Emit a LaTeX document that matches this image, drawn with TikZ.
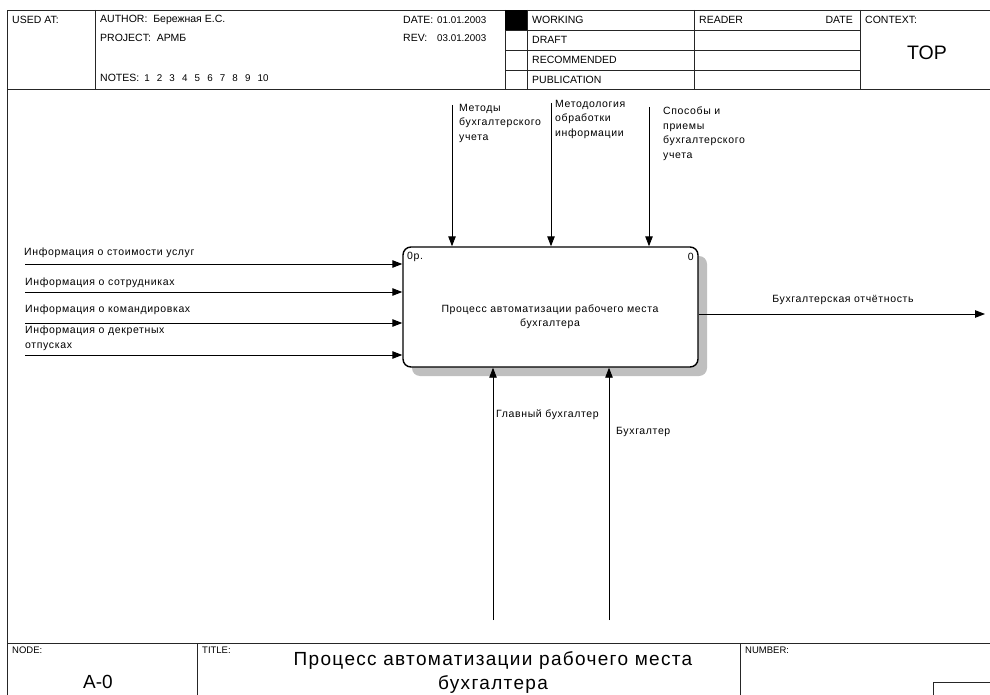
\documentclass[tikz,border=0pt]{standalone}
\usepackage{fontspec}
\setmainfont{Liberation Sans}
\newfontfamily\lblfont[LetterSpace=6]{Liberation Sans}
\newfontfamily\bigfont[LetterSpace=7]{Liberation Sans}
\usetikzlibrary{arrows.meta}
\begin{document}
\begin{tikzpicture}[x=1pt,y=-1pt,
  frame/.style={line width=0.8pt, black!85},
  flow/.style={line width=0.9pt, -{Triangle[length=10pt,width=7.5pt]}},
  lbl/.style={font=\lblfont\fontsize{10.5}{14.5}\selectfont, inner sep=0pt, align=left},
  hdr/.style={font=\fontsize{10.5}{12}\selectfont, inner sep=0pt, anchor=west},
  hdrnum/.style={font=\fontsize{9.8}{12}\selectfont, inner sep=0pt, anchor=west},
  tiny/.style={font=\fontsize{9.5}{11}\selectfont, inner sep=0pt, anchor=west},
  procbox/.style={draw, line width=1.4pt, rounded corners=8pt, fill=white,
    minimum width=295pt, minimum height=120pt, inner sep=0pt}
]
\useasboundingbox (0,0) rectangle (990,695);
% ---------- header frame
\draw[frame] (7,695) -- (7,10) -- (990,10);
\draw[frame] (7,89) -- (990,89);
\draw[frame] (95,10) -- (95,89);
\draw[frame] (505,10) -- (505,89);
\draw[frame] (527,10) -- (527,89);
\draw[frame] (694,10) -- (694,89);
\draw[frame] (860,10) -- (860,89);
\foreach \yy in {30,50,70} \draw[frame] (505,\yy) -- (860,\yy);
\fill (505,10) rectangle (527,30);
% ---------- header texts
\node[hdr] (usedat) at (12,20) {USED AT:};
\node[hdr] (author) at (100,20) {AUTHOR:\ \ Бережная Е.С.};
\node[hdr] (project) at (100,38) {PROJECT:\ \ АРМБ};
\node[hdr] (notes) at (100,78) {NOTES:};
\foreach \i in {1,...,9} {
  \node[font=\fontsize{9.8}{12}\selectfont, inner sep=0pt] (note\i) at ({147+12.6*(\i-1)},78) {\i};
}
\node[font=\fontsize{9.8}{12}\selectfont, inner sep=0pt] (note10) at (263,78) {10};
\node[hdr] (datek) at (403,20) {DATE:};
\node[hdrnum] (datev) at (437,20) {01.01.2003};
\node[hdr] (revk) at (403,38) {REV:};
\node[hdrnum] (revv) at (437,38) {03.01.2003};
\node[hdr] (working) at (532,20) {WORKING};
\node[hdr] (draft) at (532,40) {DRAFT};
\node[hdr] (recommended) at (532,60) {RECOMMENDED};
\node[hdr] (publication) at (532,80) {PUBLICATION};
\node[hdr] (reader) at (699,20) {READER};
\node[hdr, anchor=east] (rdate) at (853,20) {DATE};
\node[hdr] (context) at (865,20) {CONTEXT:};
\node[font=\fontsize{19.5}{22}\selectfont, inner sep=0pt] (top) at (927,53) {TOP};
% ---------- footer
\draw[frame] (7,643) -- (990,643);
\draw[frame] (197,643) -- (197,695);
\draw[frame] (740,643) -- (740,695);
\draw[frame] (933,695) -- (933,682) -- (990,682);
\node[tiny] (nodek) at (12,650) {NODE:};
\node[tiny] (titlek) at (202,650) {TITLE:};
\node[tiny] (numberk) at (745,650) {NUMBER:};
\node[font=\fontsize{19}{22}\selectfont, inner sep=0pt] (nodev) at (98,682) {A-0};
\node[font=\bigfont\fontsize{19}{24}\selectfont, inner sep=0pt, align=center] (titlev) at (493,672)
  {Процесс автоматизации рабочего места\\бухгалтера};
% ---------- activity box
\fill[black!25, rounded corners=8pt] (412,256) rectangle (707,376);
\node[procbox] (proc) at (550.5,307) {};
\node[lbl, align=center] (ptext) at (550,316.5) {Процесс автоматизации рабочего места\\бухгалтера};
\node[lbl, anchor=west] (pnum) at (407,257) {0р.};
\node[lbl, anchor=east] (pid) at (694,257) {0};
% ---------- inputs
\coordinate (in1) at (25,264);
\coordinate (in2) at (25,292);
\coordinate (in3) at (25,323);
\coordinate (in4) at (25,355);
\foreach \k in {1,...,4} \draw[flow] (in\k) -- (in\k -| proc.west);
\node[lbl, anchor=west] (li1) at (24,253) {Информация о стоимости услуг};
\node[lbl, anchor=west] (li2) at (25,283) {Информация о сотрудниках};
\node[lbl, anchor=west] (li3) at (25,310) {Информация о командировках};
\node[lbl, anchor=north west] (li4) at (25,326) {Информация о декретных\\отпусках};
% ---------- controls
\coordinate (c1) at (452,105);
\coordinate (c2) at (551,103);
\coordinate (c3) at (649,107);
\foreach \k in {1,2,3} \draw[flow] (c\k) -- (c\k |- proc.north);
\node[lbl, anchor=north west] (lc1) at (459,104) {Методы\\бухгалтерского\\учета};
\node[lbl, anchor=north west] (lc2) at (555,100) {Методология\\обработки\\информации};
\node[lbl, anchor=north west] (lc3) at (663,107) {Способы и\\приемы\\бухгалтерского\\учета};
% ---------- mechanisms
\coordinate (m1) at (493,620);
\coordinate (m2) at (609,620);
\foreach \k in {1,2} \draw[flow] (m\k) -- (m\k |- proc.south);
\node[lbl, anchor=west] (lm1) at (496,415) {Главный бухгалтер};
\node[lbl, anchor=west] (lm2) at (616,432) {Бухгалтер};
% ---------- output
\coordinate (o1) at (985,314);
\draw[flow] (o1 -| proc.east) -- (o1);
\node[lbl] (lo1) at (843,300) {Бухгалтерская отчётность};
\end{tikzpicture}
\end{document}
